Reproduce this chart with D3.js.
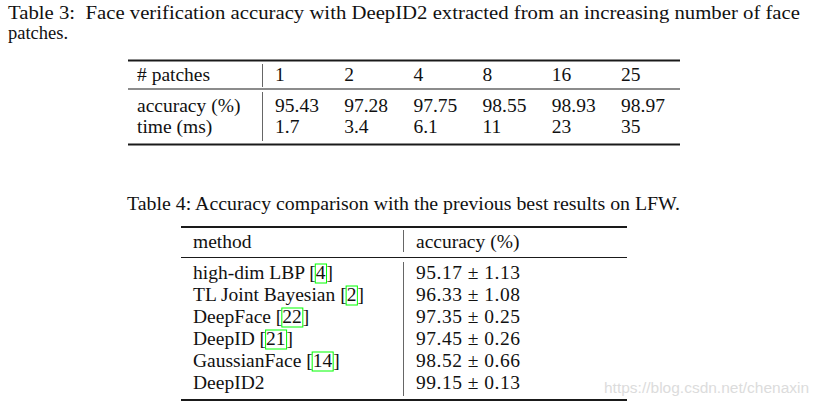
<!DOCTYPE html>
<html><head><meta charset="utf-8">
<script src="https://cdn.jsdelivr.net/npm/d3@7"></script>
<style>body{margin:0;background:#fff}svg{display:block}</style>
</head><body>
<script>
const caption3 = "Table 3:  Face verification accuracy with DeepID2 extracted from an increasing number of face";
const caption3b = "patches.";
const patches = ["1","2","4","8","16","25"];
const accuracy = ["95.43","97.28","97.75","98.55","98.93","98.97"];
const timeMs = ["1.7","3.4","6.1","11","23","35"];
const rowLabels3 = ["accuracy (%)","time (ms)"];

const caption4 = "Table 4: Accuracy comparison with the previous best results on LFW.";
const methods = ["high-dim LBP","TL Joint Bayesian","DeepFace","DeepID","GaussianFace","DeepID2"];
const cites = ["4","2","22","21","14",null];
const accMean = ["95.17","96.33","97.35","97.45","98.52","99.15"];
const accStd = ["1.13","1.08","0.25","0.26","0.66","0.13"];
const watermark = "https://blog.csdn.net/chenaxin";

const W=822,H=410;
const svg=d3.select("body").append("svg").attr("width",W).attr("height",H);
const font="Liberation Serif, DejaVu Serif, serif";
const fs=19.5;
const txt=(x,y,s,size)=> svg.append("text").attr("x",x).attr("y",y).text(s)
   .style("font-family",font).style("font-size",(size||fs)+"px").style("white-space","pre").attr("fill","#111");

// justified caption (compressed to fit the line)
txt(8,18.5,caption3,18.5).attr("textLength",792).attr("lengthAdjust","spacingAndGlyphs");
txt(8,39,caption3b,18.5);

const rule=(x1,x2,y,w)=>svg.append("line").attr("x1",x1).attr("x2",x2).attr("y1",y).attr("y2",y)
  .attr("stroke","#1a1a1a").attr("stroke-width",w);
const vline=(x,y1,y2)=>svg.append("line").attr("x1",x).attr("x2",x).attr("y1",y1).attr("y2",y2)
  .attr("stroke","#666").attr("stroke-width",1);

// Table 3
const col3=d3.scalePoint().domain(d3.range(patches.length)).range([275,621]);
rule(128,680,60.5,2); rule(128,680,89,1.2); rule(128,680,144.5,2);
vline(262.5,64,87); vline(262.5,92,141);
txt(137,81,"# patches");
patches.forEach((p,i)=>txt(col3(i),81,p));
const r3y=d3.scalePoint().domain(rowLabels3).range([112,133]);
rowLabels3.forEach(r=>txt(137,r3y(r),r));
accuracy.forEach((v,i)=>txt(col3(i),r3y(rowLabels3[0]),v));
timeMs.forEach((v,i)=>txt(col3(i),r3y(rowLabels3[1]),v));

// Table 4
txt(127,210,caption4).attr("textLength",553).attr("lengthAdjust","spacingAndGlyphs");
rule(181,627,227,2); rule(181,627,257.5,1.2); rule(181,627,400,2);
vline(403.5,230,252); vline(403.5,262,396);
txt(193,248,"method");
txt(416,248,"accuracy (%)");
const row4=d3.scalePoint().domain(d3.range(methods.length)).range([279,389]);
methods.forEach((m,i)=>{
  const y=row4(i);
  const t=txt(193,y,m+(cites[i]?" [":""));
  if(cites[i]){
    let x=193+t.node().getComputedTextLength();
    const c=txt(x,y,cites[i]);
    const cw=c.node().getComputedTextLength();
    svg.append("rect").attr("x",x-0.5).attr("y",y-15).attr("width",cw+1.5).attr("height",19)
      .attr("fill","none").attr("stroke","#00ff00").attr("stroke-width",1);
    txt(x+cw+1,y,"]");
  }
  txt(416,y,accMean[i]+" \u00b1 "+accStd[i]).attr("textLength",104).attr("lengthAdjust","spacing");
});

svg.append("text").attr("x",604).attr("y",393).text(watermark)
  .style("font-family","Liberation Sans, Arial, sans-serif").style("font-size","15.5px").attr("fill","#dcdcdc");
</script>
</body></html>
